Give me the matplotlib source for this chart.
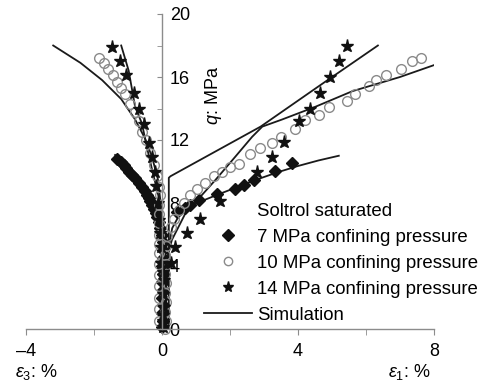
import matplotlib
matplotlib.use("Agg")
import matplotlib.pyplot as plt
from matplotlib.lines import Line2D

plt.rcParams["font.family"] = ["Liberation Sans", "DejaVu Sans"]
plt.rcParams["mathtext.fontset"] = "custom"
plt.rcParams["mathtext.rm"] = "Liberation Sans"
plt.rcParams["mathtext.it"] = "Liberation Sans:italic"

# measured points, 7 MPa confining pressure (diamonds)
d7_x = [-1.32, -1.22, -1.13, -1.05, -0.98, -0.88, -0.78, -0.68, -0.59, -0.51, -0.44, -0.38,
        -0.34, -0.29, -0.24, -0.19, -0.15, -0.10,
        -0.05, 0.0, 0.02, 0.04, 0.03, 0.0, 0.02, 0.0, 0.03, 0.0, 0.02, 0.0, 0.02, 0.0,
        0.45, 0.68, 0.83, 1.08, 1.62, 2.16, 2.40, 2.70, 3.33, 3.82]
d7_y = [10.8, 10.6, 10.4, 10.2, 10.0, 9.8, 9.6, 9.3, 9.0, 8.75, 8.5, 8.3,
        8.1, 7.85, 7.6, 7.35, 7.1, 6.8,
        6.4, 6.0, 5.5, 5.0, 4.5, 4.0, 3.5, 3.0, 2.5, 2.0, 1.5, 1.0, 0.5, 0.1,
        7.45, 7.7, 7.9, 8.2, 8.6, 8.9, 9.14, 9.46, 10.05, 10.55]

# 10 MPa confining pressure (open circles)
c10_x = [-1.84, -1.72, -1.59, -1.44, -1.32, -1.21, -1.08, -0.93, -0.80, -0.69, -0.59, -0.47,
         -0.34, -0.24, -0.15, -0.10, -0.05,
         -0.08, -0.10, -0.09, -0.10, -0.08, -0.10, -0.09, -0.10, -0.08, -0.10, -0.09, -0.10,
         0.12, 0.10, 0.12, 0.10, 0.12, 0.10, 0.12, 0.10, 0.12, 0.10,
         0.15, 0.25, 0.34, 0.49, 0.64, 0.83, 1.03, 1.27, 1.52, 1.76, 2.00, 2.25, 2.60, 2.89,
         3.24, 3.51, 3.92, 4.20, 4.63, 4.92, 5.44, 5.69, 6.10, 6.30, 6.60, 7.04, 7.34, 7.62]
c10_y = [17.2, 16.9, 16.5, 16.1, 15.7, 15.3, 14.9, 14.3, 13.8, 13.2, 12.5, 12.0,
         11.2, 10.4, 9.7, 9.0, 8.5,
         7.9, 7.3, 6.7, 6.0, 5.4, 4.8, 4.1, 3.4, 2.7, 2.0, 1.3, 0.5,
         5.3, 4.7, 4.1, 3.5, 2.9, 2.3, 1.7, 1.1, 0.5, 0.0,
         5.9, 6.5, 7.0, 7.55, 8.0, 8.5, 8.9, 9.25, 9.7, 10.0, 10.3, 10.5, 11.1, 11.5,
         11.8, 12.2, 12.7, 13.3, 13.6, 14.1, 14.5, 14.9, 15.4, 15.8, 16.1, 16.5, 17.0, 17.2]

# 14 MPa confining pressure (stars)
s14_x = [-1.47, -1.25, -1.05, -0.81, -0.69, -0.54, -0.39, -0.29, -0.22, -0.18, -0.13,
         -0.10, -0.07, -0.04, -0.02,
         0.02, 0.05, 0.03, 0.05, 0.02, 0.04, 0.03,
         0.25, 0.39, 0.74, 1.13, 1.72, 2.79, 3.24, 3.58, 4.04, 4.36, 4.64, 4.93, 5.21, 5.45]
s14_y = [17.9, 17.0, 16.1, 15.0, 14.0, 13.0, 11.8, 10.9, 10.0, 9.1, 8.0,
         6.9, 6.1, 5.2, 4.2,
         3.6, 3.1, 2.2, 1.4, 0.9, 0.5, 0.1,
         4.2, 5.2, 6.1, 7.0, 8.1, 10.0, 10.9, 11.9, 13.2, 14.0, 15.0, 16.0, 17.0, 18.0]

# simulation curves
sim7_left_x = [0.0, -0.02, -0.08, -0.2, -0.35, -0.55, -0.8, -1.05, -1.38]
sim7_left_y = [0.0, 5.0, 6.6, 7.5, 8.3, 9.1, 9.8, 10.4, 11.05]
sim7_right_x = [0.12, 0.13, 0.18, 0.3, 0.5, 0.8, 1.2, 1.6, 2.2, 2.8, 3.4, 4.0, 4.6, 5.2]
sim7_right_y = [0.0, 3.0, 5.0, 6.4, 7.2, 7.75, 8.15, 8.5, 9.0, 9.5, 9.95, 10.35, 10.7, 11.0]
sim10_left_x = [0.0, -0.02, -0.05, -0.12, -0.29, -0.5, -0.79, -1.2, -1.76, -2.4, -3.2]
sim10_left_y = [0.0, 5.0, 8.2, 9.5, 10.9, 12.1, 13.3, 14.6, 15.8, 16.9, 18.0]
sim10_right_x = [0.05, 0.08, 0.15, 0.29, 0.69, 1.13, 1.57, 2.16, 2.65, 2.95, 3.53, 4.5, 5.6, 7.0, 8.06]
sim10_right_y = [0.0, 2.5, 4.5, 5.65, 7.35, 8.4, 9.46, 10.95, 12.2, 12.85, 13.3, 14.1, 15.1, 16.0, 16.8]
sim14_left_x = [0.0, -0.02, -0.05, -0.1, -0.2, -0.29, -0.45, -0.59, -0.79, -0.98, -1.2]
sim14_left_y = [0.0, 4.0, 6.5, 8.4, 9.3, 10.1, 11.6, 13.05, 14.1, 16.4, 18.0]
sim14_right_x = [0.2, 0.2, 0.25, 2.9, 4.6, 6.35]
sim14_right_y = [0.0, 9.6, 9.7, 12.85, 15.4, 18.0]

legend_labels = ["Soltrol saturated", "7 MPa confining pressure",
                 "10 MPa confining pressure", "14 MPa confining pressure", "Simulation"]

fig = plt.figure(figsize=(4.81, 3.85), dpi=100)
ax = fig.add_axes([26 / 481, 56 / 385, 408 / 481, 315 / 385])

line_kw = dict(color="#1a1a1a", lw=1.3)
for xs, ys in [(sim7_left_x, sim7_left_y), (sim7_right_x, sim7_right_y),
               (sim10_left_x, sim10_left_y), (sim10_right_x, sim10_right_y),
               (sim14_left_x, sim14_left_y), (sim14_right_x, sim14_right_y)]:
    ax.plot(xs, ys, **line_kw)

ax.plot(d7_x, d7_y, "D", color="#111111", ms=6.5, ls="none", clip_on=False)
ax.plot(c10_x, c10_y, "o", mec="#8a8a8a", mfc="none", mew=1.0, ms=7, ls="none", clip_on=False)
ax.plot(s14_x, s14_y, "*", color="#111111", ms=9.5, ls="none", clip_on=False)

ax.set_xlim(-4, 8)
ax.set_ylim(0, 20)

ax.spines["top"].set_visible(False)
ax.spines["left"].set_position(("data", 0))
ax.spines["right"].set_position(("data", 0))
ax.spines["right"].set_visible(False)
for side in ["left", "bottom"]:
    ax.spines[side].set_color("#8c8c8c")
    ax.spines[side].set_linewidth(1.0)

ax.set_xticks([-4, 0, 4, 8], labels=["\u20134", "0", "4", "8"])
ax.set_xticks([-2, 2, 6], minor=True)
ax.set_yticks([0, 4, 8, 12, 16, 20])
ax.set_yticks([2, 6, 10, 14, 18], minor=True)
ax.tick_params(axis="x", which="both", direction="out", length=4, color="#8c8c8c",
               labelsize=13, pad=6)
ax.tick_params(axis="y", which="both", direction="out", length=3.5, color="#8c8c8c",
               left=True, right=False, labelleft=False, labelright=True,
               labelsize=13, pad=2)

fig.text(213 / 481, (385 - 95) / 385, "$q$: MPa", rotation=90, ha="center", va="center",
         fontsize=13)
fig.text(15 / 481, (385 - 372) / 385, r"$\varepsilon_3$: %", ha="left", va="center", fontsize=13)
fig.text(388 / 481, (385 - 372) / 385, r"$\varepsilon_1$: %", ha="left", va="center", fontsize=13)

handles = [
    Line2D([], [], ls="none"),
    Line2D([], [], marker="D", color="#111111", ls="none", ms=6.5),
    Line2D([], [], marker="o", mec="#8a8a8a", mfc="none", ls="none", ms=6),
    Line2D([], [], marker="*", color="#111111", ls="none", ms=8),
    Line2D([], [], **line_kw),
]
ax.legend(handles, legend_labels, loc="upper left", bbox_to_anchor=(204 / 481, 1 - 203 / 385),
          bbox_transform=fig.transFigure, frameon=False, fontsize=13.4, borderpad=0,
          borderaxespad=0, handlelength=2.6, handletextpad=0.25, labelspacing=0.48,
          numpoints=1)

fig.savefig("out.png", dpi=100)
